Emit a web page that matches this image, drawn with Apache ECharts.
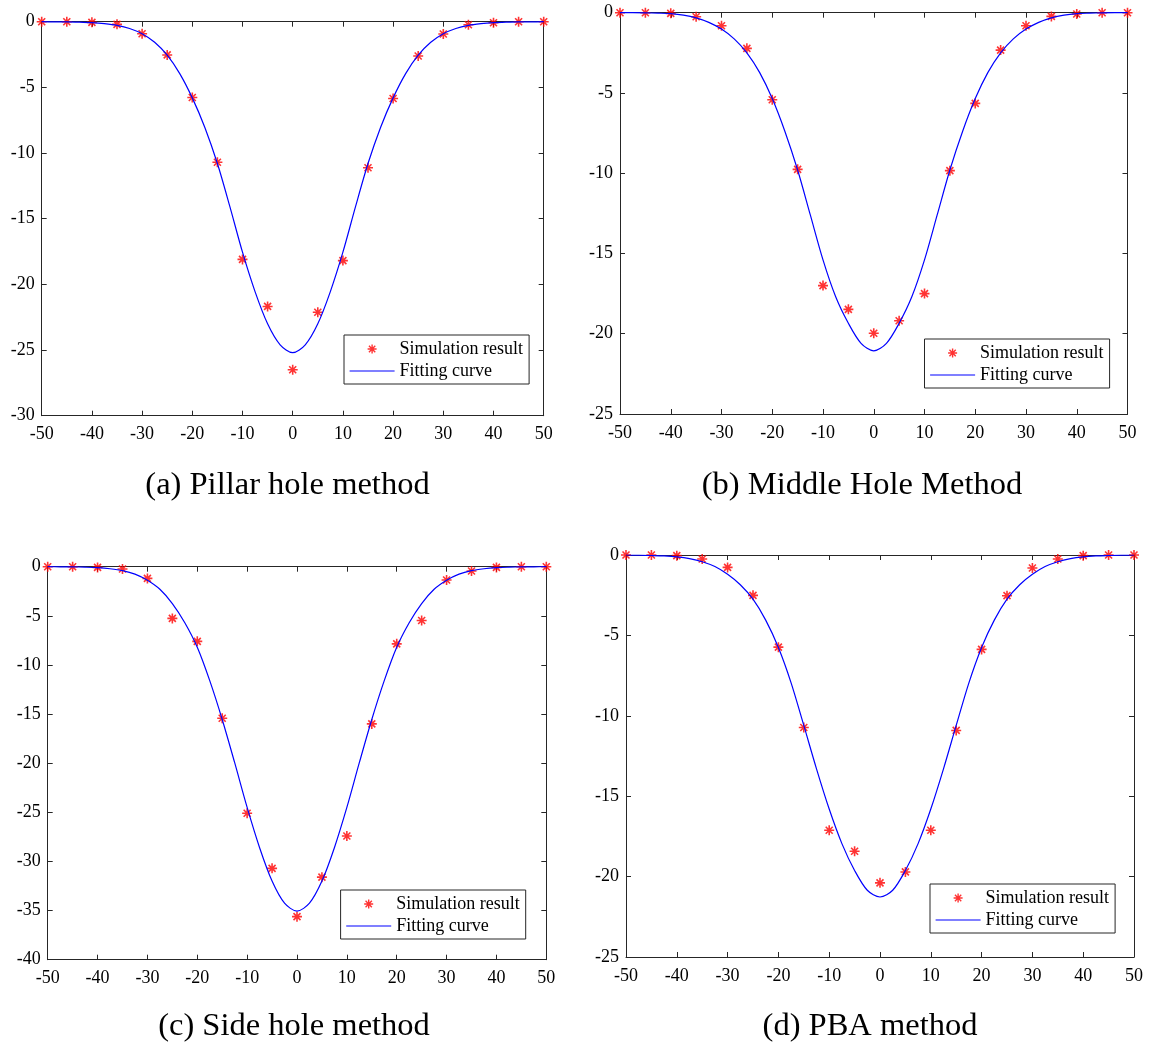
<!DOCTYPE html>
<html>
<head>
<meta charset="utf-8">
<script src="https://cdn.jsdelivr.net/npm/echarts@6/dist/echarts.min.js"></script>
<style>
  html, body { margin: 0; padding: 0; background: #fff; }
  #chart { width: 1154px; height: 1042px; }
</style>
</head>
<body>
<div id="chart"></div>
<script>
// Horizontal positions (m) of the simulated surface points
const xSim = [-50, -45, -40, -35, -30, -25, -20, -15, -10, -5, 0, 5, 10, 15, 20, 25, 30, 35, 40, 45, 50];
// Positions at which the fitting curves are tabulated
const xFit = [-50, -47.5, -45, -42.5, -40, -37.5, -35, -32.5, -30, -27.5, -25, -22.5, -20, -17.5, -15, -12.5, -10, -7.5, -5, -2.5, 0,
              2.5, 5, 7.5, 10, 12.5, 15, 17.5, 20, 22.5, 25, 27.5, 30, 32.5, 35, 37.5, 40, 42.5, 45, 47.5, 50];

// (a) Pillar hole method
const simPillar = [0, 0, -0.05, -0.2, -0.92, -2.53, -5.77, -10.7, -18.1, -21.68, -26.5, -22.12, -18.19, -11.12, -5.85, -2.61, -0.94, -0.23, -0.08, 0, 0];
const fitPillar = [0, -0.01, -0.01, -0.03, -0.07, -0.15, -0.28, -0.52, -0.92, -1.57, -2.55, -3.95, -5.8, -8.05, -10.8, -14.1, -17.55, -20.55, -23.0, -24.6, -25.2,
                   -24.6, -23.0, -20.55, -17.55, -14.1, -10.8, -8.05, -5.8, -3.95, -2.55, -1.57, -0.92, -0.52, -0.28, -0.15, -0.07, -0.03, -0.01, -0.01, 0];

// (b) Middle hole method
const simMiddle = [0, 0, -0.04, -0.25, -0.81, -2.22, -5.42, -9.76, -17.0, -18.48, -19.97, -19.19, -17.5, -9.84, -5.65, -2.33, -0.81, -0.23, -0.08, 0, 0];
const fitMiddle = [0, 0, -0.01, -0.03, -0.06, -0.15, -0.32, -0.6, -1.02, -1.63, -2.5, -3.72, -5.35, -7.4, -9.8, -12.6, -15.4, -17.7, -19.35, -20.6, -21.07,
                   -20.6, -19.35, -17.7, -15.4, -12.6, -9.8, -7.4, -5.35, -3.72, -2.5, -1.63, -1.02, -0.6, -0.32, -0.15, -0.06, -0.03, -0.01, 0, 0];

// (c) Side hole method
const simSide = [0, 0, -0.07, -0.24, -1.19, -5.26, -7.6, -15.43, -25.1, -30.7, -35.62, -31.6, -27.41, -16.0, -7.85, -5.48, -1.35, -0.44, -0.07, 0, 0];
const fitSide = [0, -0.01, -0.02, -0.05, -0.1, -0.21, -0.4, -0.76, -1.38, -2.3, -3.75, -5.7, -8.2, -11.6, -15.55, -19.95, -24.5, -28.6, -32.0, -34.25, -35.05,
                 -34.25, -32.0, -28.6, -24.5, -19.95, -15.55, -11.6, -8.2, -5.7, -3.75, -2.3, -1.38, -0.76, -0.4, -0.21, -0.1, -0.05, -0.02, -0.01, 0];

// (d) PBA method
const simPBA = [0, 0, -0.04, -0.25, -0.77, -2.51, -5.73, -10.73, -17.12, -18.42, -20.39, -19.71, -17.12, -10.91, -5.87, -2.53, -0.81, -0.25, -0.04, 0, 0];
const fitPBA = [0, -0.01, -0.03, -0.06, -0.12, -0.23, -0.42, -0.72, -1.2, -1.85, -2.75, -4.05, -5.75, -7.95, -10.6, -13.3, -15.8, -17.95, -19.62, -20.85, -21.27,
                -20.85, -19.62, -17.95, -15.8, -13.3, -10.6, -7.95, -5.75, -4.05, -2.75, -1.85, -1.2, -0.72, -0.42, -0.23, -0.12, -0.06, -0.03, -0.01, 0];

const panelTitles = ['(a) Pillar hole method', '(b) Middle Hole Method', '(c) Side hole method', '(d) PBA method'];
const yAxisMins = [-30, -25, -40, -25];
const seriesNames = ['Simulation result', 'Fitting curve'];

const simSets = [simPillar, simMiddle, simSide, simPBA];
const fitSets = [fitPillar, fitMiddle, fitSide, fitPBA];

// Panel placement on the page
const layout = [
  { grid: { left: 41.7, top: 21.7, width: 502, height: 394 },   legend: { left: 344, top: 335 }, title: { x: 287.5, y: 485 } },
  { grid: { left: 620, top: 12.7, width: 507.5, height: 401.3 }, legend: { left: 924.5, top: 339 }, title: { x: 862, y: 485 } },
  { grid: { left: 47.7, top: 566.7, width: 498.6, height: 393 }, legend: { left: 340.6, top: 890 }, title: { x: 294, y: 1026 } },
  { grid: { left: 626, top: 555, width: 508, height: 402 },      legend: { left: 930, top: 884 }, title: { x: 870, y: 1026 } }
];

const FONT = '"Liberation Serif", "Times New Roman", Times, serif';
const AXIS_COLOR = '#262626';
const SIM_COLOR = '#ff0000';
const FIT_COLOR = '#0000ff';
// MATLAB-style '*' marker: a plus and a cross drawn as strokes
const STAR = 'path://M5 0L5 10M0 5L10 5M1.5 1.5L8.5 8.5M1.5 8.5L8.5 1.5';

function axisBase(gridIndex, min, max, position, showLabels) {
  const horizontal = position === 'top' || position === 'bottom';
  return {
    type: 'value',
    gridIndex: gridIndex,
    position: position,
    min: min,
    max: max,
    interval: horizontal ? 10 : 5,
    splitLine: { show: false },
    axisLine: { show: true, onZero: false, lineStyle: { color: AXIS_COLOR, width: 1 } },
    axisTick: { show: true, inside: true, length: 5, lineStyle: { color: AXIS_COLOR, width: 1 } },
    axisLabel: {
      show: showLabels,
      fontFamily: FONT,
      fontSize: 18,
      color: '#000',
      margin: horizontal ? 10 : 7
    }
  };
}

const grids = [], xAxes = [], yAxes = [], series = [], legends = [], graphics = [];

layout.forEach(function (p, i) {
  grids.push(Object.assign({ containLabel: false }, p.grid));

  xAxes.push(axisBase(i, -50, 50, 'bottom', true));
  xAxes.push(axisBase(i, -50, 50, 'top', false));
  yAxes.push(axisBase(i, yAxisMins[i], 0, 'left', true));
  yAxes.push(axisBase(i, yAxisMins[i], 0, 'right', false));

  series.push({
    name: seriesNames[0],
    type: 'scatter',
    color: SIM_COLOR,
    xAxisIndex: 2 * i,
    yAxisIndex: 2 * i,
    symbol: STAR,
    symbolSize: 10,
    itemStyle: { color: SIM_COLOR, borderColor: SIM_COLOR, borderWidth: 1.6 },
    z: 2,
    silent: true,
    data: xSim.map(function (x, k) { return [x, simSets[i][k]]; })
  });
  series.push({
    name: seriesNames[1],
    type: 'line',
    color: FIT_COLOR,
    xAxisIndex: 2 * i,
    yAxisIndex: 2 * i,
    symbol: 'none',
    showSymbol: false,
    smooth: 0.3,
    lineStyle: { color: FIT_COLOR, width: 1.2 },
    itemStyle: { color: FIT_COLOR },
    z: 3,
    silent: true,
    data: xFit.map(function (x, k) { return [x, fitSets[i][k]]; })
  });

  legends.push({
    data: [
      { name: seriesNames[0], itemStyle: { color: SIM_COLOR, borderColor: SIM_COLOR, borderWidth: 1.4 } },
      // plain line sample: the centre marker of the line icon is hidden
      { name: seriesNames[1], itemStyle: { opacity: 0 }, lineStyle: { color: FIT_COLOR, width: 1.2 } }
    ],
    orient: 'vertical',
    left: p.legend.left,
    top: p.legend.top,
    padding: [4, 6, 3, 5],
    itemGap: 2,
    itemWidth: 45,
    itemHeight: 9,
    backgroundColor: '#fff',
    borderColor: AXIS_COLOR,
    borderWidth: 1,
    selectedMode: false,
    textStyle: { fontFamily: FONT, fontSize: 18, color: '#000', lineHeight: 20 }
  });

  graphics.push({
    type: 'text',
    x: p.title.x,
    y: p.title.y,
    style: {
      text: panelTitles[i],
      fontFamily: FONT,
      fontSize: 32.5,
      fill: '#000',
      align: 'center',
      verticalAlign: 'middle',
      textAlign: 'center',
      textVerticalAlign: 'middle'
    }
  });
});

const chart = echarts.init(document.getElementById('chart'), null, { renderer: 'canvas' });
chart.setOption({
  animation: false,
  backgroundColor: '#fff',
  grid: grids,
  xAxis: xAxes,
  yAxis: yAxes,
  legend: legends,
  series: series,
  graphic: graphics
});
</script>
</body>
</html>
